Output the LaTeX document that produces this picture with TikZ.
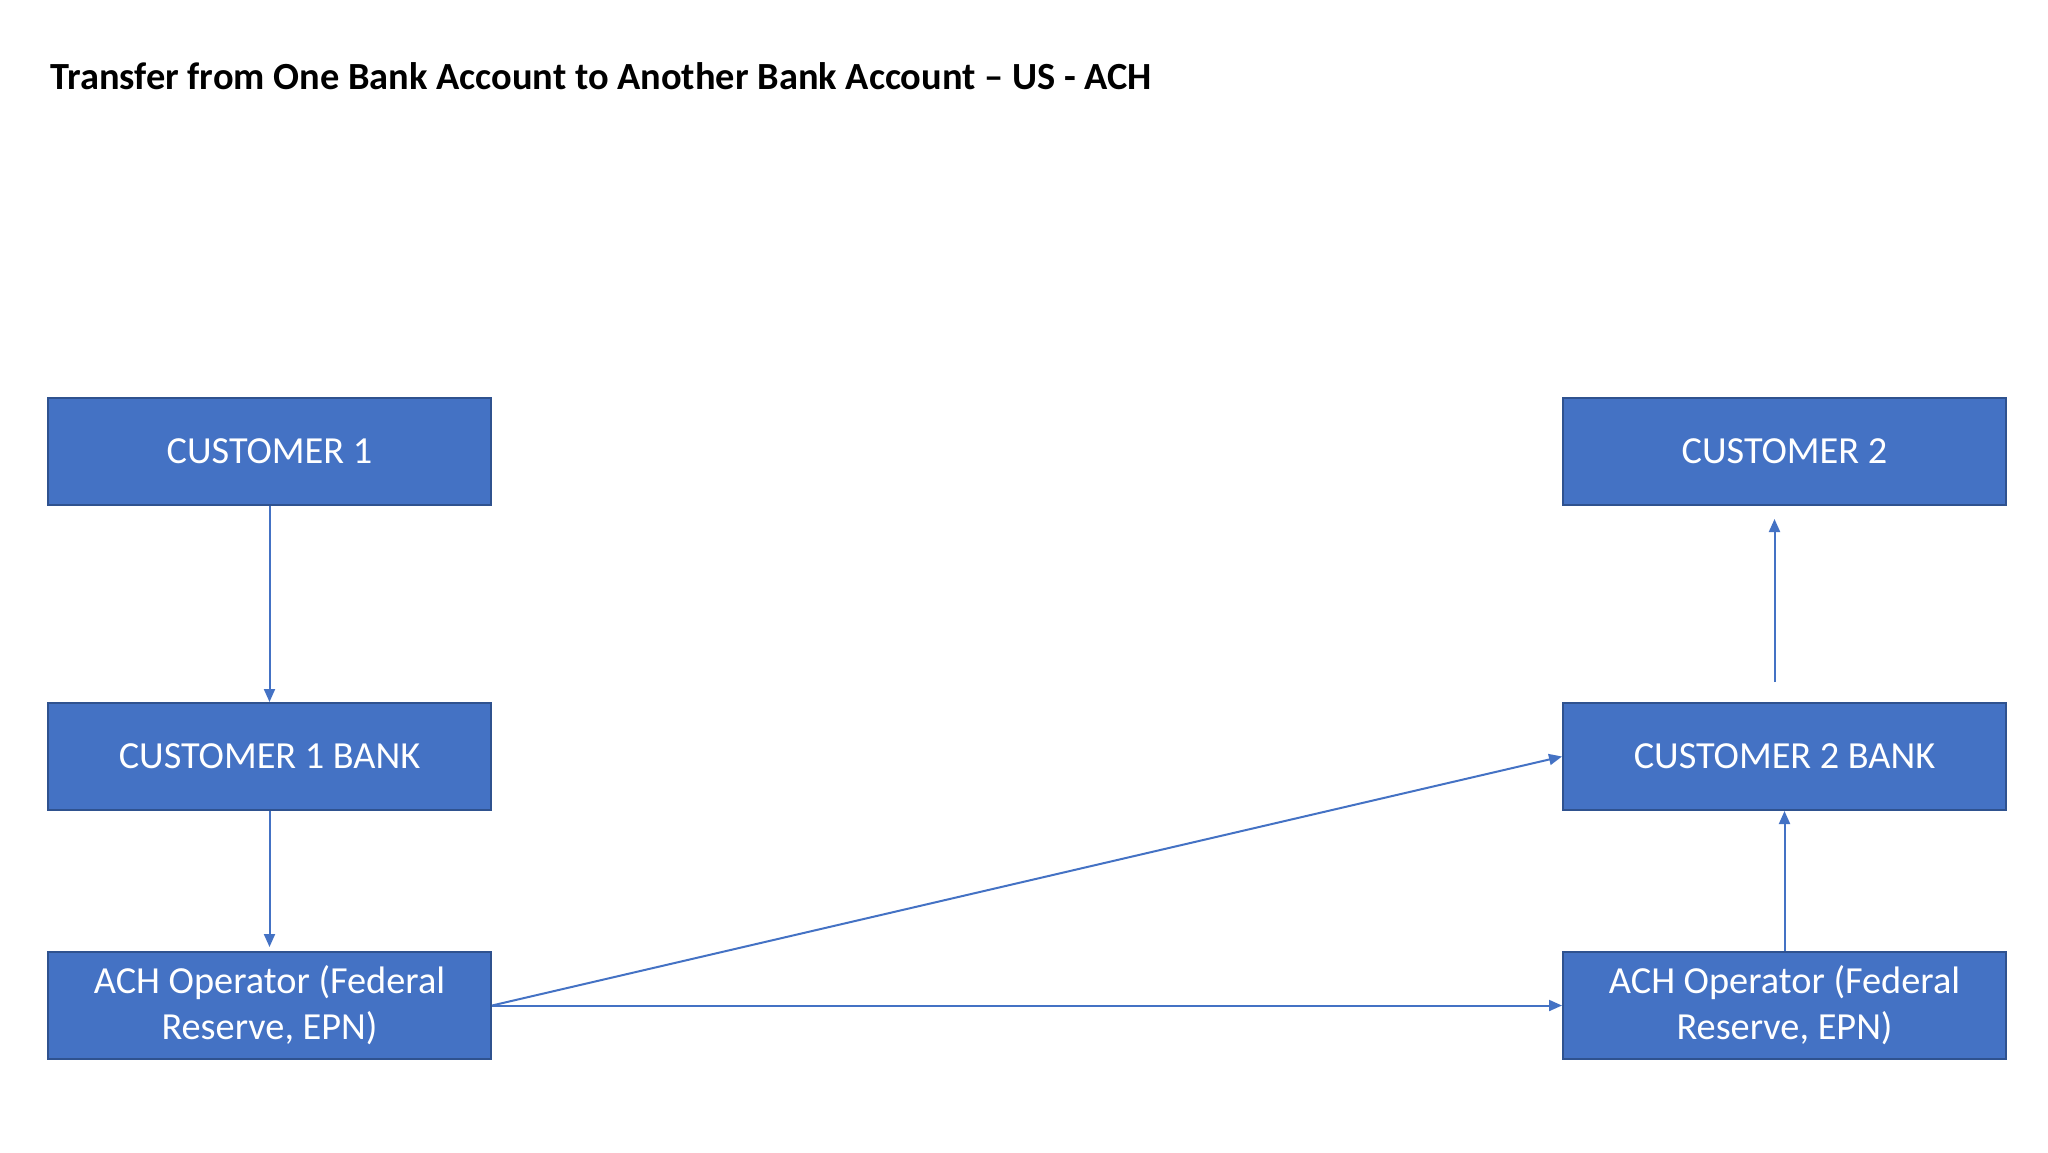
\documentclass[tikz,border=0pt]{standalone}
\usepackage{fontspec}
\setmainfont{Carlito}
\usetikzlibrary{arrows.meta}
\definecolor{boxblue}{HTML}{4472C4}
\definecolor{boxedge}{HTML}{2F528F}
\tikzset{
  flowbox/.style={draw=boxedge, line width=2pt, fill=boxblue, text=white,
    minimum width=443pt, minimum height=107pt, inner sep=0pt, align=center,
    font=\fontsize{38.3}{46}\selectfont},
  arr/.style={draw=boxblue, line width=2pt, -{Triangle[length=13pt,width=11pt]}}
}
\begin{document}
\begin{tikzpicture}[x=1pt,y=-1pt]
\useasboundingbox (0,0) rectangle (2048,1152);
\node[anchor=base west, inner sep=0pt, font=\fontsize{38.4}{46}\selectfont\bfseries] (title) at (50,89)
  {Transfer from One Bank Account to Another Bank Account – US - ACH};
\node[flowbox] (c1) at (269.5,451.5) {CUSTOMER 1};
\node[flowbox] (c1b) at (269.5,756.5) {CUSTOMER 1 BANK};
\node[flowbox] (ach1) at (269.5,1005.5) {ACH Operator (Federal\\Reserve, EPN)};
\node[flowbox] (c2) at (1784.5,451.5) {CUSTOMER 2};
\node[flowbox] (c2b) at (1784.5,756.5) {CUSTOMER 2 BANK};
\node[flowbox] (ach2) at (1784.5,1005.5) {ACH Operator (Federal\\Reserve, EPN)};
\draw[arr] (c1.south) -- (c1b.north);
\draw[arr, shorten >=4pt] (c1b.south) -- (ach1.north);
\draw[arr] (ach1.east) -- (c2b.west);
\draw[arr] (ach1.east) -- (ach2.west);
\draw[arr] (ach2.north) -- (c2b.south);
\draw[arr] ([xshift=-10pt,yshift=20pt]c2b.north) -- ([xshift=-10pt,yshift=-13pt]c2.south);
\end{tikzpicture}
\end{document}
